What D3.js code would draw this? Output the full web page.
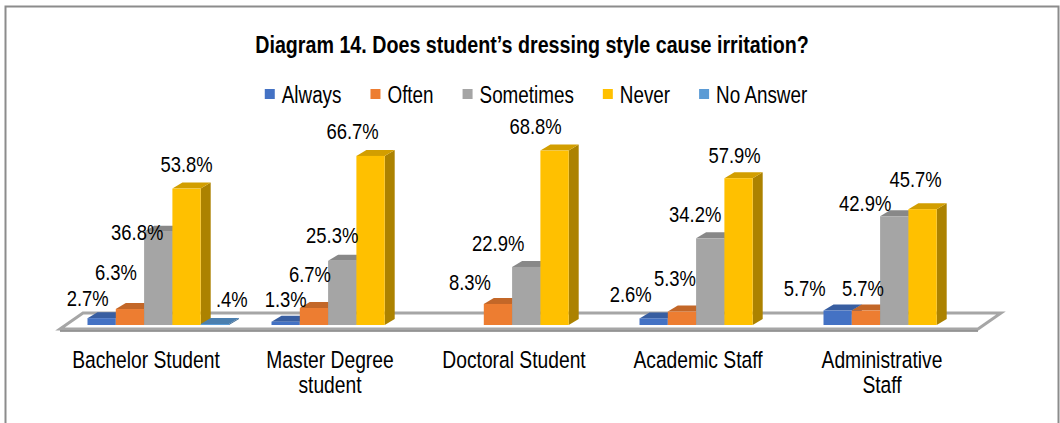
<!DOCTYPE html>
<html>
<head>
<meta charset="utf-8">
<script src="https://cdn.jsdelivr.net/npm/d3@7"></script>
<style>
	html, body { margin: 0; padding: 0; background: #fff; }
	svg text { font-family: "Liberation Sans", Arial, sans-serif; fill: #000; }
</style>
</head>
<body>
<script>
(function () {
	"use strict";

	var w = 1060;
	var h = 423;

	// Data
	var categories = ["Bachelor Student", "Master Degree student", "Doctoral Student", "Academic Staff", "Administrative Staff"];
	var seriesNames = ["Always", "Often", "Sometimes", "Never", "No Answer"];
	var always = [2.7, 1.3, null, 2.6, 5.7];
	var often = [6.3, 6.7, 8.3, 5.3, 5.7];
	var sometimes = [36.8, 25.3, 22.9, 34.2, 42.9];
	var never = [53.8, 66.7, 68.8, 57.9, 45.7];
	var noAnswer = [0.4, null, null, null, null];
	var colors = ["#4472C4", "#ED7D31", "#A5A5A5", "#FFC000", "#5B9BD5"];

	// Hand-placed data labels (shift from the default spot above the bar)
	var labelShift = [
		[[-14, 5], [0, 2], null, [-23, 1], [-33, 2]],
		[[-14, -12], [-4, -9], [-28, 3], [-7, -9], [-3, 2]],
		[[-21, 25], [-10, -1], [-28, 1], [-15, 1], [-29, 12]],
		[[0, 0], [-18, 0], [-19, 0], [-4, 2], [-7, -5]],
		[[17, 0], null, null, null, null]
	];

	var series = [always, often, sometimes, never, noAnswer];

	var depthX = 10, depthY = 6;
	var squeeze = 0.82; // the picture's text is narrow (Arial Narrow look)

	var svg = d3.select("body")
		.append("svg")
		.attr("width", w)
		.attr("height", h);

	// narrow text helper
	function narrowText(parent, x, y, str, size) {
		return parent.append("text")
			.attr("transform", "translate(" + x + "," + y + ") scale(" + squeeze + ",1)")
			.style("font-size", size + "px")
			.text(str);
	}

	// Frame
	svg.append("rect")
		.attr("x", 5.5).attr("y", 6.5)
		.attr("width", 1053).attr("height", 440)
		.attr("fill", "none")
		.attr("stroke", "#8c8c8c")
		.attr("stroke-width", 2);

	// Scales
	var xScale = d3.scaleBand()
		.domain(categories)
		.range([56, 976]);

	var xInner = d3.scaleBand()
		.domain(seriesNames)
		.range([-60.5, 81]);

	var yScale = d3.scaleLinear()
		.domain([0, 70])
		.range([325, 325 - 70 * 2.535]);

	// Title
	narrowText(svg, 532, 53, "Diagram 14. Does student\u2019s dressing style cause irritation?", 24)
		.attr("text-anchor", "middle")
		.style("font-weight", "bold");

	// Legend
	var legend = svg.append("g");
	var lx = 0;
	seriesNames.forEach(function (name, i) {
		var item = legend.append("g").attr("transform", "translate(" + lx + ",0)");
		item.append("rect")
			.attr("x", 0).attr("y", 89)
			.attr("width", 10).attr("height", 10)
			.attr("fill", colors[i]);
		var t = narrowText(item, 17, 103, name, 23);
		lx += 17 + t.node().getComputedTextLength() * squeeze + 29;
	});
	lx -= 29;
	legend.attr("transform", "translate(" + (536 - lx / 2) + ",0)");

	// Floor
	var floorFront = 329, floorBack = 313, floorDx = 23;
	var fl = xScale.range()[0] + 4, fr = xScale.range()[1] + 2;
	svg.append("path")
		.attr("d", "M" + fl + "," + floorFront + "L" + (fl + floorDx) + "," + floorBack +
			"L" + (fr + floorDx) + "," + floorBack + "L" + fr + "," + floorFront + "Z")
		.attr("fill", "#fff")
		.attr("stroke", "#a6a6a6")
		.attr("stroke-width", 3)
		.attr("stroke-linejoin", "miter");
	svg.append("line")
		.attr("x1", fl).attr("x2", fr)
		.attr("y1", floorFront + 2).attr("y2", floorFront + 2)
		.attr("stroke", "#7f7f7f")
		.attr("stroke-width", 1.5);

	// Bars
	var bars = svg.append("g");
	categories.forEach(function (cat, ci) {
		seriesNames.forEach(function (name, si) {
			var v = series[si][ci];
			if (v === null || v === undefined) return;
			var x0 = xScale(cat) + xScale.bandwidth() / 2 + xInner(name);
			var bw = xInner.bandwidth();
			var y0 = yScale(0);
			var y1 = yScale(v);
			var c = d3.color(colors[si]);
			var g = bars.append("g");
			// side
			g.append("path")
				.attr("d", "M" + (x0 + bw) + "," + y0 + "L" + (x0 + bw + depthX) + "," + (y0 - depthY) +
					"L" + (x0 + bw + depthX) + "," + (y1 - depthY) + "L" + (x0 + bw) + "," + y1 + "Z")
				.attr("fill", c.darker(1.1));
			// top
			g.append("path")
				.attr("d", "M" + x0 + "," + y1 + "L" + (x0 + depthX) + "," + (y1 - depthY) +
					"L" + (x0 + bw + depthX) + "," + (y1 - depthY) + "L" + (x0 + bw) + "," + y1 + "Z")
				.attr("fill", c.darker(0.55));
			// front
			g.append("rect")
				.attr("x", x0).attr("y", y1)
				.attr("width", bw).attr("height", Math.max(0, y0 - y1))
				.attr("fill", colors[si]);
		});
	});

	// Data labels
	function fmt(v) {
		var s = v.toFixed(1);
		if (s.charAt(0) === "0") s = s.slice(1);
		return s + "%";
	}

	categories.forEach(function (cat, ci) {
		seriesNames.forEach(function (name, si) {
			var v = series[si][ci];
			if (v === null || v === undefined) return;
			var sh = labelShift[si][ci] || [0, 0];
			var cx = xScale(cat) + xScale.bandwidth() / 2 + xInner(name) + xInner.bandwidth() / 2;
			narrowText(svg, cx + sh[0], yScale(v) - 17 + sh[1], fmt(v), 22.5)
				.attr("text-anchor", "middle");
		});
	});

	// Category axis
	var xAxisGen = d3.axisBottom()
		.scale(xScale)
		.tickSize(0)
		.tickPadding(0);

	var xAxis = svg.append("g")
		.attr("class", "axis")
		.attr("transform", "translate(-2, 368)")
		.call(xAxisGen);

	xAxis.select(".domain").remove();
	xAxis.selectAll("text")
		.attr("dy", null)
		.attr("y", 0)
		.attr("transform", "scale(" + squeeze + ",1)")
		.style("font-size", "23.5px")
		.style("font-family", null)
		.attr("fill", "#000")
		.each(function (d) {
			var el = d3.select(this);
			var words = d.split(" ");
			el.text(null);
			var line = [];
			var tspan = el.append("tspan").attr("x", 0).attr("dy", 0);
			words.forEach(function (word) {
				line.push(word);
				tspan.text(line.join(" "));
				if (tspan.node().getComputedTextLength() > 190 && line.length > 1) {
					line.pop();
					tspan.text(line.join(" "));
					line = [word];
					tspan = el.append("tspan").attr("x", 0).attr("dy", 25).text(word);
				}
			});
		});
})();
</script>
</body>
</html>
